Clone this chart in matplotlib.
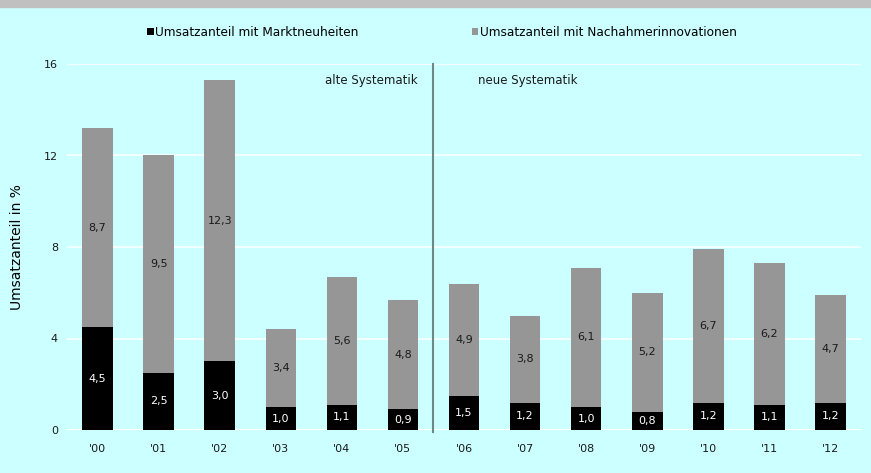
import matplotlib.pyplot as plt
from matplotlib.patches import Rectangle

# ── Data ──────────────────────────────────────────────────────────────────────
years = ["'00", "'01", "'02", "'03", "'04", "'05", "'06",
         "'07", "'08", "'09", "'10", "'11", "'12"]
markt = [4.5, 2.5, 3.0, 1.0, 1.1, 0.9, 1.5, 1.2, 1.0, 0.8, 1.2, 1.1, 1.2]
nachahmer = [8.7, 9.5, 12.3, 3.4, 5.6, 4.8, 4.9, 3.8, 6.1, 5.2, 6.7, 6.2, 4.7]
y_ticks = [0, 4, 8, 12, 16]

BG = "#CCFFFF"
GREY = "#969696"
FONT = "DejaVu Sans"
plt.rcParams["font.family"] = FONT


def fmt(v):
    return f"{v:.1f}".replace(".", ",")


fig = plt.figure(figsize=(8.71, 4.73), dpi=100, facecolor=BG)
fig.patches.append(Rectangle((0, 1 - 7 / 473), 1, 7 / 473, transform=fig.transFigure,
                             color="#C0C0C0", zorder=0))

ax = fig.add_axes([67 / 871, 1 - 430 / 473, 794 / 871, 366 / 473])
ax.set_facecolor(BG)

x = list(range(len(years)))
ax.bar(x, markt, width=0.5, color="black", zorder=3, label="Umsatzanteil mit Marktneuheiten")
ax.bar(x, nachahmer, width=0.5, bottom=markt, color=GREY, zorder=3,
       label="Umsatzanteil mit Nachahmerinnovationen")

for xi, m, n in zip(x, markt, nachahmer):
    ax.text(xi, m / 2, fmt(m), ha="center", va="center", color="white",
            fontsize=8, zorder=4)
    ax.text(xi, m + n / 2, fmt(n), ha="center", va="center", color="#1a1a1a",
            fontsize=8, zorder=4)

ax.set_xlim(-0.5, 12.5)
ax.set_ylim(0, 16)
ax.set_yticks(y_ticks)
ax.set_xticks(x)
ax.set_xticklabels(years)
ax.tick_params(length=0, labelsize=8, colors="#1a1a1a")
ax.tick_params(axis="y", pad=6.5)
ax.tick_params(axis="x", pad=10)
for s in ax.spines.values():
    s.set_visible(False)
ax.grid(axis="y", color="white", linewidth=1.1, zorder=1)
ax.axhline(0, color="white", linewidth=1.5, zorder=2)
ax.set_axisbelow(True)

# divider between old and new classification
ax.plot([5.5, 5.5], [-0.1, 16], color="#6E8888", linewidth=1.5, zorder=2, clip_on=False)
ax.text(5.24, 15.3, "alte Systematik", ha="right", va="center", fontsize=8.5,
        color="#1a1a1a")
ax.text(6.23, 15.3, "neue Systematik", ha="left", va="center", fontsize=8.5,
        color="#1a1a1a")

ax.set_ylabel("Umsatzanteil in %", fontsize=10, labelpad=14)

fig.legend(loc="center left", bbox_to_anchor=(147 / 871, 1 - 32 / 473), ncol=2,
           frameon=False, borderpad=0, borderaxespad=0, handlelength=0.55,
           handleheight=0.55, handletextpad=0.1, columnspacing=9.4,
           prop={"size": 8.7})

fig.savefig("out.png", dpi=100, facecolor=BG)
